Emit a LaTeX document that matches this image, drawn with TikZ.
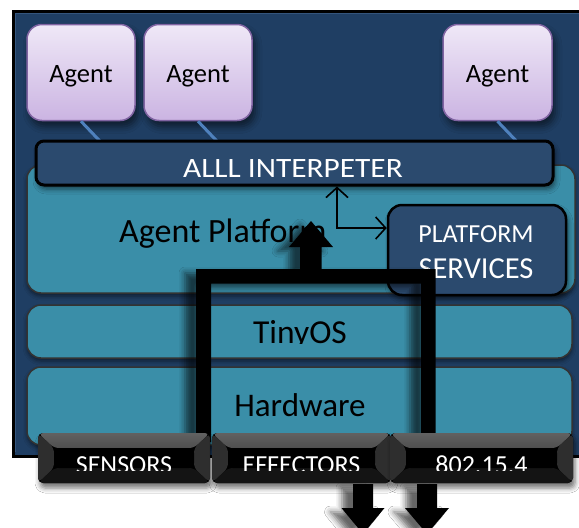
\documentclass[tikz,border=0pt]{standalone}
\usepackage{fontspec}
\setmainfont{Carlito}
\newfontfamily\widefont[FakeStretch=1.12]{Carlito}
\usetikzlibrary{arrows.meta,shadows.blur}
\definecolor{navy}{HTML}{1F3E63}
\definecolor{navyrim}{HTML}{34557D}
\definecolor{teal}{HTML}{3A8EA8}
\definecolor{slate}{HTML}{2B4A6E}
\definecolor{agenttop}{HTML}{EFE8F7}
\definecolor{agentbot}{HTML}{CBB4E2}
\definecolor{agentrim}{HTML}{8064A2}
\definecolor{linkblue}{HTML}{4F81BD}
\newcommand{\fsz}[1]{\fontsize{#1}{#1}\selectfont}
\begin{document}
\begin{tikzpicture}[x=1pt,y=-1pt,
  agentbox/.style={draw=agentrim, line width=1.5pt, rounded corners=15pt,
    top color=agenttop, bottom color=agentbot, minimum width=108pt,
    minimum height=96pt, inner sep=0pt,
    blur shadow={shadow xshift=3pt, shadow yshift=-6pt, shadow opacity=55, shadow blur radius=7pt}},
  agenttext/.style={font=\fsz{26.5}, text=black, inner sep=0pt, anchor=base},
  layerbox/.style={draw=black!80, line width=1.5pt, fill=teal, rounded corners=14pt,
    inner sep=0pt,
    blur shadow={shadow xshift=0pt, shadow yshift=-3pt, shadow opacity=50, shadow blur radius=4pt}},
  slatebox/.style={draw=black, line width=3pt, fill=slate, inner sep=0pt,
    blur shadow={shadow xshift=2pt, shadow yshift=-4pt, shadow opacity=55, shadow blur radius=5pt}},
  whitetext/.style={text=white, inner sep=0pt, anchor=base},
  blacktext/.style={text=black, inner sep=0pt, anchor=base},
  link/.style={draw=linkblue, line width=3pt},
  thinarrow/.style={draw=black, line width=1.6pt, {Straight Barb[length=10pt,width=22pt]}-{Straight Barb[length=10pt,width=22pt]}},
  bigblack/.style={fill=black,
    blur shadow={shadow xshift=-11pt, shadow yshift=-4pt, shadow opacity=60, shadow blur radius=6pt}},
  labelbox/.style={fill=black, rounded corners=5pt, inner sep=0pt,
    minimum height=50pt,
    blur shadow={shadow xshift=2pt, shadow yshift=-5pt, shadow opacity=55, shadow blur radius=5pt},
    path picture={
      \fill[top color=black!62, bottom color=black!85]
        (path picture bounding box.north west) -- (path picture bounding box.north east)
        -- ([xshift=-16pt,yshift=-15pt]path picture bounding box.north east)
        -- ([xshift=16pt,yshift=-15pt]path picture bounding box.north west) -- cycle;
      \fill[black!82]
        (path picture bounding box.north west) -- ([xshift=16pt,yshift=-15pt]path picture bounding box.north west)
        -- ([xshift=16pt,yshift=15pt]path picture bounding box.south west) -- (path picture bounding box.south west) -- cycle;
      \fill[black!82]
        (path picture bounding box.north east) -- ([xshift=-16pt,yshift=-15pt]path picture bounding box.north east)
        -- ([xshift=-16pt,yshift=15pt]path picture bounding box.south east) -- (path picture bounding box.south east) -- cycle;
      \fill[black!92]
        (path picture bounding box.south west) -- ([xshift=16pt,yshift=15pt]path picture bounding box.south west)
        -- ([xshift=-16pt,yshift=15pt]path picture bounding box.south east) -- (path picture bounding box.south east) -- cycle;
      \fill[black]
        ([xshift=16pt,yshift=-15pt]path picture bounding box.north west) rectangle
        ([xshift=-16pt,yshift=15pt]path picture bounding box.south east);
    }},
  labeltext/.style={font=\fsz{26}, text=white, inner sep=0pt, anchor=base}
]
\useasboundingbox (0,0) rectangle (579,528);
\fill[white] (0,0) rectangle (579,528);

% outer frame
\node[draw=black, line width=3pt, fill=navy, minimum width=590pt, minimum height=445pt,
  inner sep=0pt, anchor=north west] (frame) at (12,10) {};
\draw[navyrim, line width=1.5pt] (15,13.5) -- (590,13.5);
\draw[navyrim, line width=1.5pt] (15.5,13) -- (15.5,452);

% agents
\node[agentbox] (agent1) at (81,72.5) {};
\node[agentbox] (agent2) at (198,72.5) {};
\node[agentbox, minimum width=109pt] (agent3) at (497.5,72.5) {};
\node[agenttext] (agent1t) at (agent1.center |- 0,82) {Agent};
\node[agenttext] (agent2t) at (agent2.center |- 0,82) {Agent};
\node[agenttext] (agent3t) at (agent3.center |- 0,82) {Agent};

% agent platform layer
\node[layerbox, minimum width=548pt, minimum height=128pt] (platform) at (301,229) {};

% links from agents to interpreter
\draw[link] (agent1.south) -- ++(21,22);
\draw[link] (agent2.south) -- ++(21,22);
\draw[link] (agent3.south) -- ++(21,22);

% interpreter
\node[slatebox, rounded corners=8pt, minimum width=517pt, minimum height=44pt] (interp) at (294.5,163) {};
\node[whitetext, font=\widefont\fsz{28}] (interpt) at (293,177) {ALLL INTERPETER};

% platform services
\node[slatebox, line width=2.5pt, rounded corners=14pt, minimum width=178pt, minimum height=90pt] (services) at (477,250) {};
\node[whitetext, font=\fsz{26}] (servt1) at (476,242) {PLATFORM};
\node[whitetext, font=\fsz{30.5}] (servt2) at (476,278) {SERVICES};

% thin arrows
\coordinate (bend) at (337,228);
\draw[thinarrow] (interp.south -| bend) -- (bend) -- (bend -| services.west);

% tinyos, hardware
\node[layerbox, minimum width=545pt, minimum height=53pt] (tinyos) at (299.5,331.5) {};
\node[layerbox, minimum width=545pt, minimum height=78pt] (hardware) at (299.5,406) {};

% texts of layers
\node[blacktext, font=\fsz{34}, anchor=base west] (platt) at (119,242) {Agent Platform};
\begin{scope}
  \clip (0,300) rectangle (579,343.5);
  \node[blacktext, font=\fsz{33.5}] (tinyt) at (300,343) {TinyOS};
\end{scope}
\node[blacktext, font=\fsz{33}] (hardt) at (300,416) {Hardware};

% thick black path and up arrow
\fill[bigblack] (196,442) -- (196,269) -- (435.5,269) -- (435.5,442) -- (421,442)
  -- (421,283.5) -- (211,283.5) -- (211,442) -- cycle;
\fill[bigblack] (300,270) -- (300,247) -- (289,247) -- (311,221) -- (333,247)
  -- (321.5,247) -- (321.5,270) -- cycle;

% bottom labels
\node[labelbox, minimum width=172pt] (sensors) at (124,458) {};
\node[labelbox, minimum width=179pt] (effectors) at (301.5,458) {};
\node[labelbox, minimum width=183pt] (radio) at (481.5,458) {};
\begin{scope}
  \clip (0,440) rectangle (579,470.5);
  \node[labeltext] (sensorst) at (sensors.center |- 0,473) {SENSORS};
  \node[labeltext] (effectorst) at (effectors.center |- 0,473) {EFFECTORS};
  \node[labeltext] (radiot) at (radio.center |- 0,473) {802.15.4};
\end{scope}

% bottom down arrows
\fill[bigblack] (353,484) -- (353,508) -- (341.5,508) -- (363,534) -- (384.5,508)
  -- (373,508) -- (373,484) -- cycle;
\fill[bigblack] (417,484) -- (417,508) -- (405,508) -- (427,534) -- (449,508)
  -- (437,508) -- (437,484) -- cycle;
\end{tikzpicture}
\end{document}
